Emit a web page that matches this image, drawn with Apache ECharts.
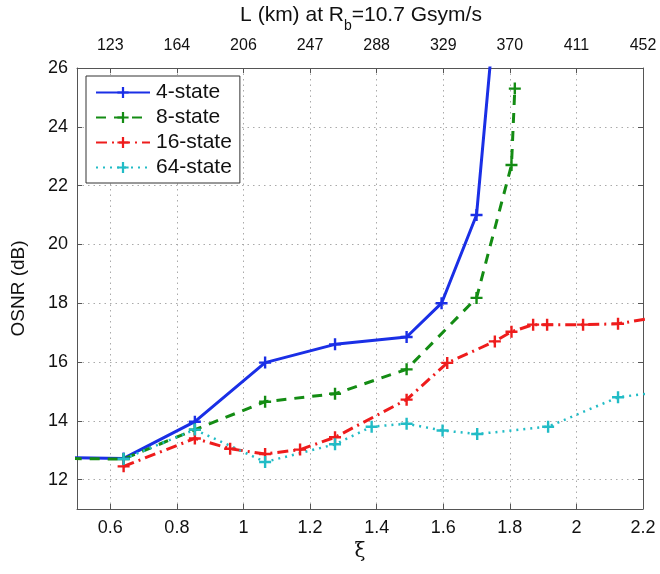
<!DOCTYPE html>
<html>
<head>
<meta charset="utf-8">
<script src="https://cdn.jsdelivr.net/npm/echarts@6/dist/echarts.min.js"></script>
<style>
  html, body { margin: 0; padding: 0; background: #fff; }
  #chart { width: 660px; height: 574px; }
</style>
</head>
<body>
<div id="chart"></div>
<script>
// values
const xi4 = [0.43, 0.64, 0.854, 1.065, 1.275, 1.49, 1.595, 1.70, 1.76]
const osnr4 = [12.75, 12.72, 13.97, 15.98, 16.6, 16.85, 18.0, 21.0, 28.5]

const xi8 = [0.43, 0.64, 0.854, 1.065, 1.275, 1.49, 1.70, 1.805, 1.815]
const osnr8 = [12.72, 12.7, 13.7, 14.65, 14.92, 15.75, 18.18, 22.7, 25.3]

const xi16 = [0.64, 0.854, 0.96, 1.065, 1.17, 1.275, 1.49, 1.612, 1.755, 1.805, 1.87, 1.912, 2.02, 2.125, 2.23]
const osnr16 = [12.45, 13.4, 13.05, 12.87, 13.02, 13.44, 14.72, 15.97, 16.7, 17.03, 17.27, 17.27, 17.27, 17.3, 17.5]

const xi64 = [0.64, 0.854, 1.065, 1.275, 1.385, 1.49, 1.598, 1.702, 1.915, 2.125, 2.23]
const osnr64 = [12.7, 13.7, 12.6, 13.2, 13.8, 13.9, 13.67, 13.55, 13.8, 14.8, 14.95]

const xiTicks = [0.6, 0.8, 1.0, 1.2, 1.4, 1.6, 1.8, 2.0, 2.2]
const kmLabels = ['123', '164', '206', '247', '288', '329', '370', '411', '452']
const osnrTicks = [12, 14, 16, 18, 20, 22, 24, 26]

const FONT = 'Liberation Sans, Arial, Helvetica, sans-serif'
const PLUS = 'path://M4,0h2v4h4v2h-4v4h-2v-4h-4v-2h4z'
const axisColor = '#555'
const gridLine = { show: true, lineStyle: { color: '#aaa', type: [1.5, 4], width: 1 } }

const zip = (xs, ys) => xs.map((x, i) => [x, ys[i]])

const mkSeries = (name, xs, ys, color, type, width) => ({
  name,
  type: 'line',
  data: zip(xs, ys),
  symbol: PLUS,
  symbolSize: 12,
  showAllSymbol: true,
  clip: true,
  itemStyle: { color },
  lineStyle: { color, width, type },
  emphasis: { disabled: true },
  animation: false
})

const chart = echarts.init(document.getElementById('chart'))

chart.setOption({
  animation: false,
  textStyle: { fontFamily: FONT },
  title: {
    text: '{a|L (km) at R}{s|b}{a|=10.7 Gsym/s}',
    left: 361,
    textAlign: 'center',
    top: 5,
    padding: 0,
    textStyle: {
      fontWeight: 'normal',
      rich: {
        // main text hugs the top of the line, the subscript its bottom
        a: { fontSize: 21, color: '#111', fontFamily: FONT, fontWeight: 'normal', lineHeight: 24, verticalAlign: 'top' },
        s: { fontSize: 14, color: '#111', fontFamily: FONT, fontWeight: 'normal', lineHeight: 28, verticalAlign: 'bottom' }
      }
    }
  },
  legend: {
    orient: 'vertical',
    left: 86,
    top: 76,
    itemWidth: 54,
    itemHeight: 14,
    itemGap: 4,
    padding: [6, 8, 5, 9],
    borderColor: '#333',
    borderWidth: 1,
    backgroundColor: '#fff',
    selectedMode: false,
    textStyle: { fontSize: 21, color: '#111', fontFamily: FONT, padding: [0, 0, 0, 1] },
    data: ['4-state', '8-state', '16-state', '64-state']
  },
  grid: { left: 77, right: 17, top: 68, bottom: 65 },
  xAxis: [
    {
      type: 'value',
      min: 0.5,
      max: 2.2,
      name: 'ξ',
      nameLocation: 'middle',
      nameGap: 32,
      nameTextStyle: { fontSize: 20, color: '#111', fontFamily: 'DejaVu Serif, serif' },
      axisLine: { show: true, onZero: false, lineStyle: { color: axisColor } },
      axisTick: { show: true, inside: true, length: 5, customValues: xiTicks, lineStyle: { color: axisColor } },
      axisLabel: { fontSize: 18, color: '#111', margin: 10, customValues: xiTicks, formatter: v => String(+v.toFixed(1)) },
      splitLine: gridLine
    },
    {
      type: 'value',
      position: 'top',
      min: 0.5,
      max: 2.2,
      axisLine: { show: true, onZero: false, lineStyle: { color: axisColor } },
      axisTick: { show: true, inside: true, length: 5, customValues: xiTicks, lineStyle: { color: axisColor } },
      axisLabel: {
        fontSize: 16,
        color: '#111',
        margin: 14,
        customValues: xiTicks,
        formatter: v => kmLabels[Math.round((v - 0.6) / 0.2)] || ''
      },
      splitLine: { show: false }
    }
  ],
  yAxis: [
    {
      type: 'value',
      min: 11,
      max: 26,
      name: 'OSNR (dB)',
      nameLocation: 'middle',
      nameGap: 49,
      nameTextStyle: { fontSize: 19, color: '#111' },
      axisLine: { show: true, onZero: false, lineStyle: { color: axisColor } },
      axisTick: { show: true, inside: true, length: 5, customValues: osnrTicks, lineStyle: { color: axisColor } },
      axisLabel: { fontSize: 18, color: '#111', margin: 9, customValues: osnrTicks },
      splitLine: gridLine
    },
    {
      type: 'value',
      position: 'right',
      min: 11,
      max: 26,
      axisLine: { show: true, onZero: false, lineStyle: { color: axisColor } },
      axisTick: { show: true, inside: true, length: 5, customValues: osnrTicks, lineStyle: { color: axisColor } },
      axisLabel: { show: false },
      splitLine: { show: false }
    }
  ],
  series: [
    mkSeries('4-state', xi4, osnr4, '#1a2fe6', 'solid', 3),
    mkSeries('8-state', xi8, osnr8, '#148c14', [10, 8], 3),
    mkSeries('16-state', xi16, osnr16, '#ee1c1c', [11, 5, 2, 5], 3),
    mkSeries('64-state', xi64, osnr64, '#22bcc6', [2, 5], 2.5)
  ]
})
</script>
</body>
</html>
